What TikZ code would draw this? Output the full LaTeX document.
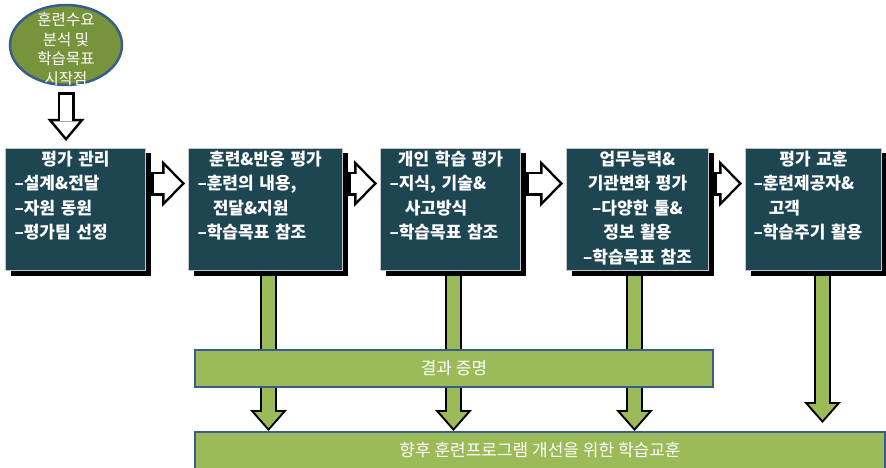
\documentclass[tikz,border=0pt]{standalone}
\usepackage{fontspec}
\setmainfont{Noto Sans CJK KR}
\usetikzlibrary{shapes.geometric,arrows.meta,shadows,backgrounds}

\definecolor{boxcol}{RGB}{30,69,82}
\definecolor{leafgreen}{RGB}{155,187,89}
\definecolor{olivefill}{RGB}{119,147,60}
\definecolor{barline}{RGB}{56,93,138}

\tikzset{
  evalbox/.style={draw=gray!45, line width=1pt, fill=boxcol, text=white,
    anchor=north west, align=left, inner xsep=9pt, inner ysep=3pt,
    font=\bfseries\fontsize{17}{24.5}\selectfont,
    text height=14pt, text depth=102pt,
    drop shadow={shadow xshift=5pt, shadow yshift=-5pt, opacity=1, fill=black}},
  resultbar/.style={draw=barline, line width=2pt, fill=leafgreen, text=white,
    anchor=north west, inner sep=0pt, minimum height=37pt,
    font=\fontsize{17}{20}\selectfont},
  greenout/.style={line width=17pt, black, -{Triangle[length=21pt,width=37pt,line width=0pt]}},
  greenin/.style={line width=13pt, leafgreen, -{Triangle[length=16pt,width=28pt,line width=0pt]}},
  hollowout/.style={line width=24pt, black, -{Triangle[length=23pt,width=47pt,line width=0pt]}},
  hollowin/.style={line width=19pt, white, -{Triangle[length=17pt,width=35pt,line width=0pt]}},
}

\begin{document}
\begin{tikzpicture}[x=1pt,y=-1pt]
  \useasboundingbox (0,0) rectangle (886,468);

  % start point
  \node (start) at (66,45) [ellipse,draw=barline,line width=2.5pt,fill=olivefill,
    minimum width=112pt,minimum height=80pt]{};
  \node (starttext) at ([yshift=-4pt]start.center) [text=white,align=center,
    font=\fontsize{15.5}{19.5}\selectfont]{훈련수요\\분석 및\\학습목표\\시작점};

  % evaluation steps
  \node (b1) at (5,148) [evalbox,text width=122pt]
    {\makebox[\hsize]{평가 관리}\\–설계\&전달\\–자원 동원\\–평가팀 선정};
  \node (b2) at (188,148) [evalbox,text width=136pt]
    {\makebox[\hsize]{훈련\&반응 평가}\\–훈련의 내용,\\\hspace*{0.9em}전달\&지원\\–학습목표 참조};
  \node (b3) at (380,148) [evalbox,text width=122pt]
    {\makebox[\hsize]{개인 학습 평가}\\–지식, 기술\&\\\hspace*{0.9em}사고방식\\–학습목표 참조};
  \node (b4) at (566,148) [evalbox,text width=124pt,align=center]
    {업무능력\&\\기관변화 평가\\–다양한 툴\&\\정보 활용\\–학습목표 참조};
  \node (b5) at (745,148) [evalbox,text width=120pt,inner xsep=8pt]
    {\makebox[\hsize]{평가 교훈}\\–훈련제공자\&\\\hspace*{0.9em}고객\\–학습주기 활용};

  % results
  \node (proof) at (194,349) [resultbar,minimum width=518pt]{결과 증명};
  \node (lesson) at (194,431) [resultbar,minimum width=690pt]{향후 훈련프로그램 개선을 위한 학습교훈};

  \coordinate (g2) at ([xshift=3pt]b2.south);
  \coordinate (g3) at ([xshift=3pt]b3.south);
  \coordinate (g4) at ([xshift=-3pt]b4.south);
  \coordinate (g5) at ([xshift=9pt]b5.south);

  \begin{scope}[on background layer]
    \draw[hollowout,line width=17pt,-{Triangle[length=22pt,width=37pt,line width=0pt]},
      shorten <=6pt,shorten >=7pt] (start.south) -- (start.south |- b1.north);
    \draw[hollowin,line width=12pt,-{Triangle[length=15.6pt,width=26pt,line width=0pt]},
      shorten <=8.5pt,shorten >=10.9pt] (start.south) -- (start.south |- b1.north);

    \foreach \a/\b in {b1/b2,b2/b3,b3/b4,b4/b5}{
      \draw[hollowout,shorten >=3pt] ([xshift=5pt,yshift=26pt]\a.east) -- ([yshift=26pt]\b.west);
      \draw[hollowin,shorten <=2.5pt,shorten >=6.5pt] ([xshift=5pt,yshift=26pt]\a.east) -- ([yshift=26pt]\b.west);
    }

    \foreach \g/\s in {g2/0,g3/0,g4/0,g5/8}{
      \draw[greenout,shorten >=\s pt] (\g) -- (\g |- lesson.north);
      \draw[greenin,shorten >=\s pt+3pt] (\g) -- (\g |- lesson.north);
    }
  \end{scope}
\end{tikzpicture}
\end{document}
